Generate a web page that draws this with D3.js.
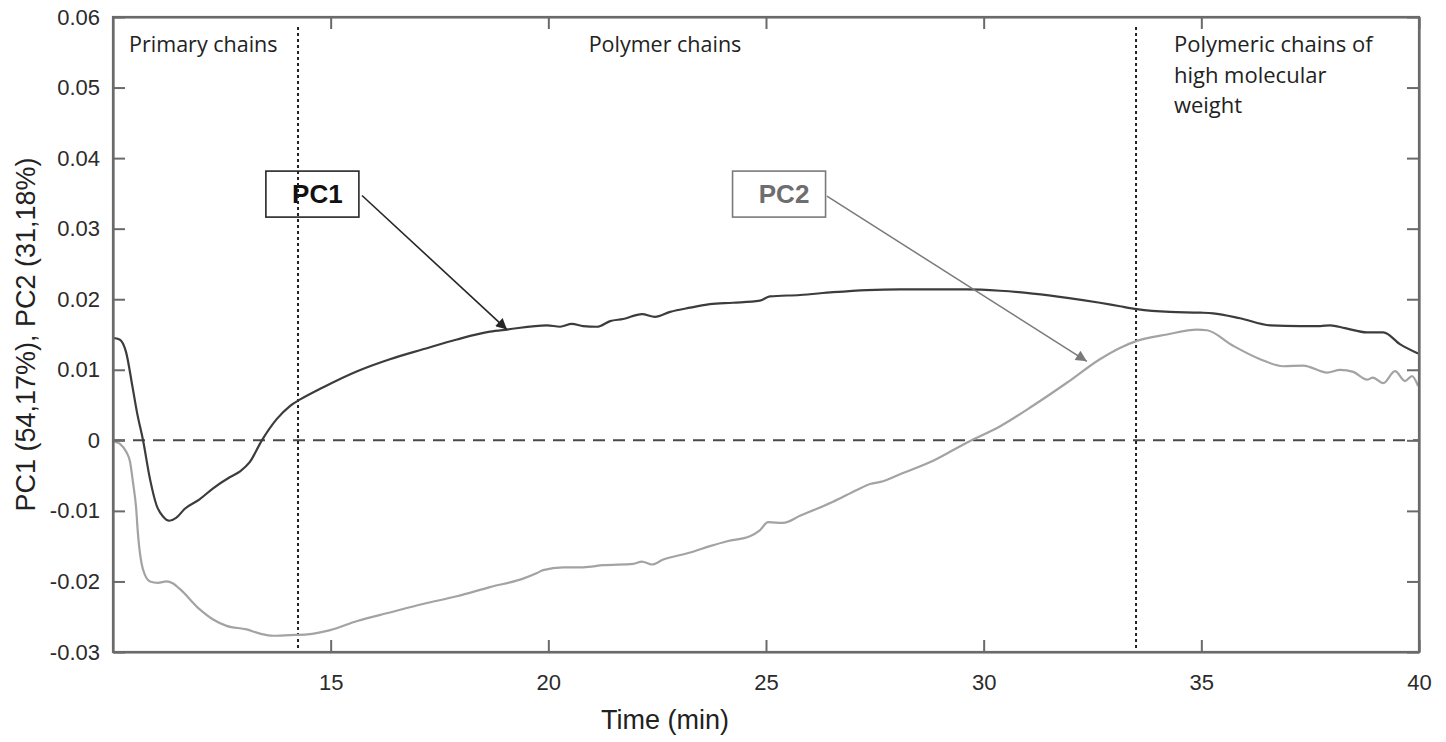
<!DOCTYPE html>
<html><head><meta charset="utf-8">
<script src="https://cdn.jsdelivr.net/npm/d3@7"></script>
<style>body{margin:0;background:#fff}svg{display:block}</style>
</head><body>
<svg id="chart" width="1446" height="742"></svg>
<script>
// ---- data ----
const pc1Time = [10.0,10.15,10.3,10.45,10.55,10.69,10.85,11.0,11.15,11.29,11.45,11.65,11.98,12.3,12.69,12.92,13.14,13.42,13.76,14.07,14.30,14.82,15.61,16.36,17.12,17.90,18.66,19.05,19.97,20.27,20.54,20.80,21.12,21.42,21.72,22.15,22.45,22.80,23.26,23.71,24.24,24.86,25.09,25.78,26.54,27.32,28.08,28.84,29.62,30.38,31.13,31.92,32.67,33.13,33.52,34.28,34.97,35.27,35.89,36.58,37.27,37.73,37.96,38.30,38.81,39.18,39.57,39.98];
const pc1Values = [0.0145,0.0143,0.0125,0.0075,0.004,0.0,-0.0055,-0.0092,-0.0108,-0.0114,-0.011,-0.0097,-0.0084,-0.0068,-0.0052,-0.0044,-0.0031,0.0,0.003,0.0049,0.0058,0.0075,0.0098,0.0115,0.0129,0.0143,0.0154,0.0157,0.0163,0.0161,0.0165,0.0162,0.0161,0.0169,0.0172,0.0179,0.0175,0.0182,0.0188,0.0193,0.0195,0.0198,0.0204,0.0206,0.021,0.0213,0.0214,0.0214,0.0214,0.0212,0.0208,0.0202,0.0195,0.019,0.0186,0.0182,0.0181,0.018,0.0173,0.0163,0.0162,0.0162,0.0163,0.0159,0.0153,0.0153,0.0136,0.0123];
const pc2Time = [10.0,10.05,10.16,10.31,10.39,10.46,10.53,10.57,10.69,10.85,11.03,11.23,11.38,11.54,12.0,12.3,12.61,13.07,13.38,13.68,14.07,14.46,14.99,15.61,16.36,17.12,17.90,18.66,19.42,19.74,19.88,20.34,20.80,21.26,21.95,22.15,22.38,22.64,23.26,23.71,24.11,24.63,24.85,25.05,25.39,25.78,26.54,27.10,27.39,27.69,28.08,28.84,29.62,30.38,31.13,31.92,32.67,33.13,33.52,34.21,34.90,35.13,35.73,36.35,36.88,37.34,37.89,38.19,38.49,38.81,38.94,39.18,39.45,39.68,39.84,39.98];
const pc2Values = [0.0,-0.0002,-0.0005,-0.0017,-0.003,-0.006,-0.0095,-0.013,-0.0183,-0.02,-0.0202,-0.02,-0.0203,-0.0211,-0.024,-0.0254,-0.0263,-0.0268,-0.0274,-0.0277,-0.0276,-0.0275,-0.0269,-0.0256,-0.0244,-0.0232,-0.0221,-0.0208,-0.0196,-0.0188,-0.0184,-0.018,-0.018,-0.0177,-0.0175,-0.0172,-0.0176,-0.0169,-0.0159,-0.015,-0.0143,-0.0136,-0.0128,-0.0116,-0.0117,-0.0107,-0.0087,-0.007,-0.0062,-0.0058,-0.0048,-0.0029,-0.0003,0.002,0.0049,0.0082,0.0115,0.0131,0.0141,0.015,0.0157,0.0156,0.0134,0.0115,0.0105,0.0106,0.0096,0.01,0.0097,0.0086,0.0089,0.0081,0.0098,0.0084,0.0091,0.0077];
const xTickValues = [15,20,25,30,35,40];
const yTickValues = [-0.03,-0.02,-0.01,0,0.01,0.02,0.03,0.04,0.05,0.06];
const yTickLabels = ["-0.03","-0.02","-0.01","0","0.01","0.02","0.03","0.04","0.05","0.06"];
const regionBoundaries = [14.25, 33.5];
const seriesNames = ["PC1","PC2"];
const xTitle = "Time (min)";
const yTitle = "PC1 (54,17%), PC2 (31,18%)";

// ---- layout ----
const L = 113, R = 1419, T = 17, B = 652;
const svg = d3.select("#chart");
const x = d3.scaleLinear().domain([10, 40]).range([L, R]);
const y = d3.scaleLinear().domain([-0.03, 0.06]).range([B, T]);
const frameColor = "#6a6a6a";

// zero line
svg.append("line").attr("x1", L).attr("x2", R).attr("y1", y(0)).attr("y2", y(0))
  .attr("stroke", "#4a4a4a").attr("stroke-width", 2).attr("stroke-dasharray", "12,8");

// region boundaries
svg.selectAll(".vb").data(regionBoundaries).enter().append("line")
  .attr("x1", d => x(d)).attr("x2", d => x(d)).attr("y1", T + 10).attr("y2", B)
  .attr("stroke", "#222").attr("stroke-width", 2).attr("stroke-dasharray", "3,3");

// series
const line = d3.line().x(d => x(d[0])).y(d => y(d[1])).curve(d3.curveMonotoneX);
svg.append("path").datum(pc2Time.map((t, i) => [t, pc2Values[i]]))
  .attr("d", line).attr("fill", "none").attr("stroke", "#a3a3a3").attr("stroke-width", 2.2);
svg.append("path").datum(pc1Time.map((t, i) => [t, pc1Values[i]]))
  .attr("d", line).attr("fill", "none").attr("stroke", "#3c3c3c").attr("stroke-width", 2.2);

// axes (inward ticks, mirrored box)
const tickLen = 12;
const gBottom = svg.append("g").attr("transform", `translate(0,${B})`)
  .call(d3.axisBottom(x).tickValues(xTickValues).tickSizeInner(-tickLen).tickSizeOuter(0).tickPadding(22));
const gTop = svg.append("g").attr("transform", `translate(0,${T})`)
  .call(d3.axisTop(x).tickValues(xTickValues).tickSizeInner(-tickLen).tickSizeOuter(0).tickFormat(""));
const gLeft = svg.append("g").attr("transform", `translate(${L},0)`)
  .call(d3.axisLeft(y).tickValues(yTickValues).tickSizeInner(-tickLen).tickSizeOuter(0).tickPadding(13)
    .tickFormat((d, i) => yTickLabels[i]));
const gRight = svg.append("g").attr("transform", `translate(${R},0)`)
  .call(d3.axisRight(y).tickValues(yTickValues).tickSizeInner(-tickLen).tickSizeOuter(0).tickFormat(""));
[gBottom, gTop, gLeft, gRight].forEach(g => {
  g.select(".domain").attr("stroke", frameColor).attr("stroke-width", 2.2);
  g.selectAll(".tick line").attr("stroke", frameColor).attr("stroke-width", 2);
  g.selectAll(".tick text").attr("fill", "#2b2b2b")
    .style("font-family", "'Liberation Sans', Arial, sans-serif").style("font-size", "22px");
});
svg.append("rect").attr("x", L).attr("y", T).attr("width", R - L).attr("height", B - T)
  .attr("fill", "none").attr("stroke", frameColor).attr("stroke-width", 2.2);

// axis titles
svg.append("text").attr("x", 665).attr("y", 729).attr("text-anchor", "middle")
  .style("font-family", "'Liberation Sans', Arial, sans-serif").style("font-size", "27px")
  .attr("fill", "#222").text(xTitle);
svg.append("text").attr("transform", `translate(35,${(T + B) / 2}) rotate(-90)`).attr("text-anchor", "middle")
  .style("font-family", "'Liberation Sans', Arial, sans-serif").style("font-size", "27px")
  .attr("fill", "#222").text(yTitle);

// region labels
const regionFont = "'Open Sans', sans-serif";
const regionText = svg.append("g").style("font-family", regionFont).style("font-size", "21.5px").attr("fill", "#222");
regionText.append("text").attr("x", x(10.37)).attr("y", 52).text("Primary chains");
regionText.append("text").attr("x", x(22.68)).attr("y", 52).attr("text-anchor", "middle").text("Polymer chains");
const hm = regionText.append("text").attr("x", x(34.37)).attr("y", 52).style("font-size", "22px");
["Polymeric chains of", "high molecular", "weight"].forEach((s, i) =>
  hm.append("tspan").attr("x", x(34.37)).attr("dy", i === 0 ? 0 : 30.5).text(s));

// annotations (boxes + arrows), anchored in data coordinates
const defs = svg.append("defs");
const annColors = ["#262626", "#7a7a7a"];
const annTextColors = ["#111", "#6e6e6e"];
const annBoxT = [14.58, 25.30], annBoxV = [0.0349, 0.0349];
const annFromT = [15.72, 26.40], annFromV = [0.0347, 0.0346];
const annToT = [19.05, 32.37], annToV = [0.0157, 0.0112];
seriesNames.forEach((name, i) => {
  defs.append("marker").attr("id", "ah" + i).attr("viewBox", "0 0 10 10")
    .attr("refX", 10).attr("refY", 5).attr("markerUnits", "userSpaceOnUse")
    .attr("markerWidth", 15).attr("markerHeight", 11).attr("orient", "auto")
    .append("path").attr("d", "M0,0 L10,5 L0,10 z").attr("fill", annColors[i]);
  const cx = x(annBoxT[i]), cy = y(annBoxV[i]);
  svg.append("rect").attr("x", cx - 46.5).attr("y", cy - 23).attr("width", 93).attr("height", 46)
    .attr("fill", "#fff").attr("stroke", annColors[i]).attr("stroke-width", 1.6);
  svg.append("text").attr("x", cx + 5).attr("y", cy + 9).attr("text-anchor", "middle")
    .style("font-family", "'Liberation Sans', Arial, sans-serif").style("font-size", "26px")
    .style("font-weight", "bold").attr("fill", annTextColors[i]).text(name);
  svg.append("line").attr("x1", x(annFromT[i])).attr("y1", y(annFromV[i]))
    .attr("x2", x(annToT[i])).attr("y2", y(annToV[i]))
    .attr("stroke", annColors[i]).attr("stroke-width", i === 0 ? 1.6 : 1.5)
    .attr("marker-end", `url(#ah${i})`);
});
// dotted boundary passes through the PC1 box as in the reference
svg.selectAll(".vb2").data([regionBoundaries[0]]).enter().append("line")
  .attr("x1", d => x(d)).attr("x2", d => x(d)).attr("y1", y(annBoxV[0]) - 23).attr("y2", y(annBoxV[0]) + 23)
  .attr("stroke", "#222").attr("stroke-width", 2).attr("stroke-dasharray", "3,3");
</script>
</body></html>
